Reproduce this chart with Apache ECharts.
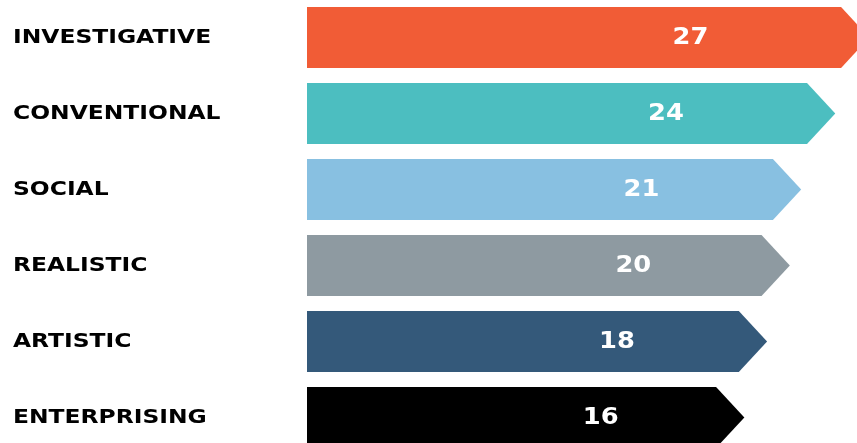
<!DOCTYPE html>
<html>
<head>
<meta charset="utf-8">
<title>Interest profile</title>
<script src="https://cdn.jsdelivr.net/npm/echarts@6/dist/echarts.min.js"></script>
<style>
  html, body { margin: 0; padding: 0; background: #ffffff; }
  #chart { width: 857px; height: 443px; }
</style>
</head>
<body>
<div id="chart"></div>
<script>
// Interest types, top to bottom
const categories = ['INVESTIGATIVE', 'CONVENTIONAL', 'SOCIAL', 'REALISTIC', 'ARTISTIC', 'ENTERPRISING'];
// Score for each type
const scores = [27, 24, 21, 20, 18, 16];
// Fill colour for each bar
const barColors = ['#F15C36', '#4CBEC0', '#88C0E1', '#8E9AA1', '#34597A', '#000000'];

// Bars run from this value on the axis (leaves room for the names on the left)
const AXIS_MIN = -20;
const AXIS_MAX = 28.4;

const chart = echarts.init(document.getElementById('chart'), null, { renderer: 'canvas' });

const FONT = '"DejaVu Sans", Verdana, sans-serif';
const NAME_X = 13;

chart.setOption({
  animation: false,
  backgroundColor: '#ffffff',
  grid: {
    left: 307, right: 0, top: -0.5, height: 456,
    containLabel: false,
    outerBoundsMode: 'none'
  },
  xAxis: {
    type: 'value',
    min: AXIS_MIN,
    max: AXIS_MAX,
    show: false
  },
  yAxis: {
    type: 'category',
    inverse: true,
    data: categories,
    axisLine: { show: false },
    axisTick: { show: false },
    splitLine: { show: false },
    axisLabel: { show: false }
  },
  series: [{
    type: 'custom',
    clip: false,
    encode: { x: 0, y: 1 },
    data: scores.map((v, i) => [v, i]),
    renderItem: function (params, api) {
      const v = api.value(0);
      const idx = api.value(1);
      const end = api.coord([v, idx]);
      const start = api.coord([AXIS_MIN, idx]);
      const band = api.size([0, 1])[1];
      const h = band * 0.8;
      const half = h / 2;
      const tip = half * 0.93;
      const x0 = start[0], x1 = end[0], y = end[1];
      return {
        type: 'group',
        children: [{
          // arrow-shaped bar
          type: 'polygon',
          shape: {
            points: [
              [x0, y - half], [x1, y - half], [x1 + tip, y],
              [x1, y + half], [x0, y + half]
            ]
          },
          style: { fill: barColors[params.dataIndex] }
        }, {
          // score inside the bar
          type: 'text',
          x: x0 + (x1 - x0) * 0.718,
          y: y + 1,
          scaleX: 1.12,
          style: {
            text: String(v),
            fill: '#ffffff',
            font: 'bold 23px ' + FONT,
            align: 'center',
            verticalAlign: 'middle'
          }
        }, {
          // category name at the left edge, set in a wide face
          type: 'text',
          x: NAME_X,
          y: y,
          scaleX: 1.17,
          style: {
            text: categories[idx],
            fill: '#000000',
            font: 'bold 20px ' + FONT,
            align: 'left',
            verticalAlign: 'middle'
          }
        }]
      };
    }
  }]
});
</script>
</body>
</html>
